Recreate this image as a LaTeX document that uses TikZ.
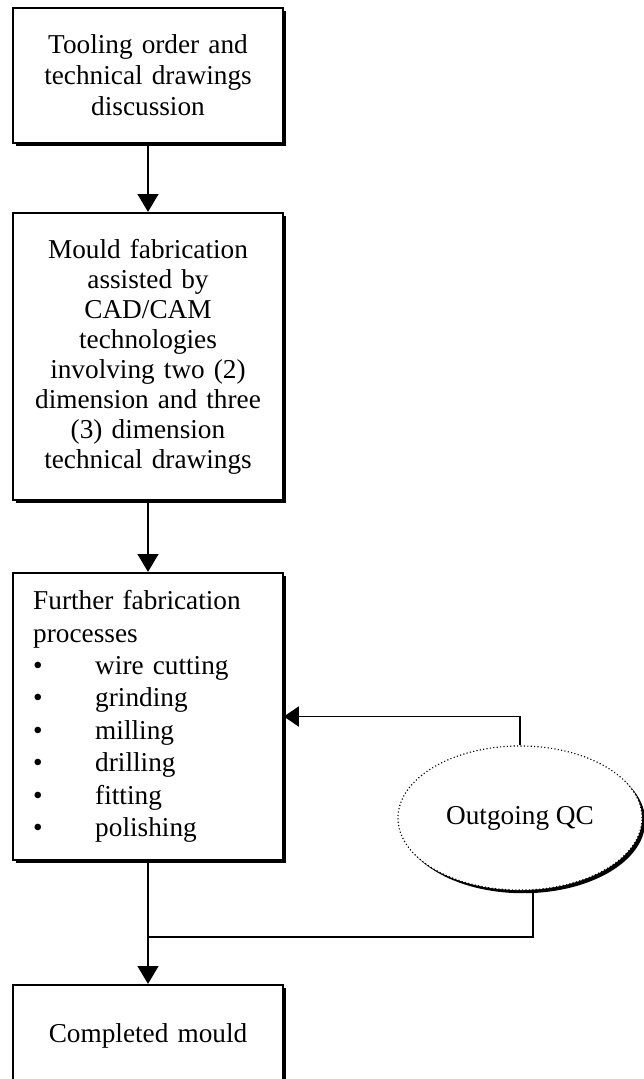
\documentclass[tikz,border=0pt]{standalone}
\usepackage{fontspec}
\setmainfont{Liberation Serif}
\usetikzlibrary{arrows.meta,shapes.geometric,shadows}
\newcommand{\itembul}{\makebox[27.3pt][l]{\large\textbullet}}

\begin{document}
\begin{tikzpicture}[x=0.44pt,y=-0.44pt, font=\fontsize{12}{13.6}\selectfont,
        stepbox/.style={draw, line width=0.9pt, fill=white, text width=101pt, inner xsep=8.8pt, inner ysep=0pt, align=center,
            drop shadow={shadow xshift=1.3pt, shadow yshift=-1.3pt, fill=black, opacity=1}},
        qcnode/.style={ellipse, draw, densely dotted, line width=0.5pt, fill=white, minimum width=107.4pt, minimum height=63.4pt,
            drop shadow={shadow xshift=1.4pt, shadow yshift=-1.4pt, fill=black, opacity=1}},
        flow/.style={-{Triangle[length=7.8pt,width=9pt]}, line width=1pt},
        back/.style={line width=0.7pt}]
        \useasboundingbox (0,0) rectangle (644,1079);
        \node[stepbox, minimum height=59.4pt] (order) at (148,75.5) {Tooling order and\\technical drawings\\discussion};
        \node[stepbox, minimum height=126.3pt, font=\fontsize{12}{13.2}\selectfont] (fabric) at (148,356.5)
            {Mould fabrication\\assisted by\\CAD/CAM\\technologies\\involving two (2)\\dimension and three\\(3) dimension\\technical drawings};
        \node[stepbox, align=left, minimum height=126.3pt, font=\fontsize{12}{14.26}\selectfont] (further) at (148,716.5)
            {Further fabrication\\processes\\\itembul wire cutting\\\itembul grinding\\\itembul milling\\\itembul drilling\\\itembul fitting\\\itembul polishing};
        \node[stepbox, minimum height=44.9pt] (done) at (148,1036) {Completed mould};
        \node[qcnode] (qc) at (520,818) {Outgoing QC};
        \coordinate (merge) at (148,937);
        \draw[flow] (order) -- (fabric);
        \draw[flow] (fabric) -- (further);
        \draw[flow] (further) -- (done);
        \draw[back, -{Triangle[length=6.6pt,width=8.8pt]}] (qc.north) |- (further.east);
        \draw[back] (qc.-80) |- (merge);
\end{tikzpicture}
\end{document}
